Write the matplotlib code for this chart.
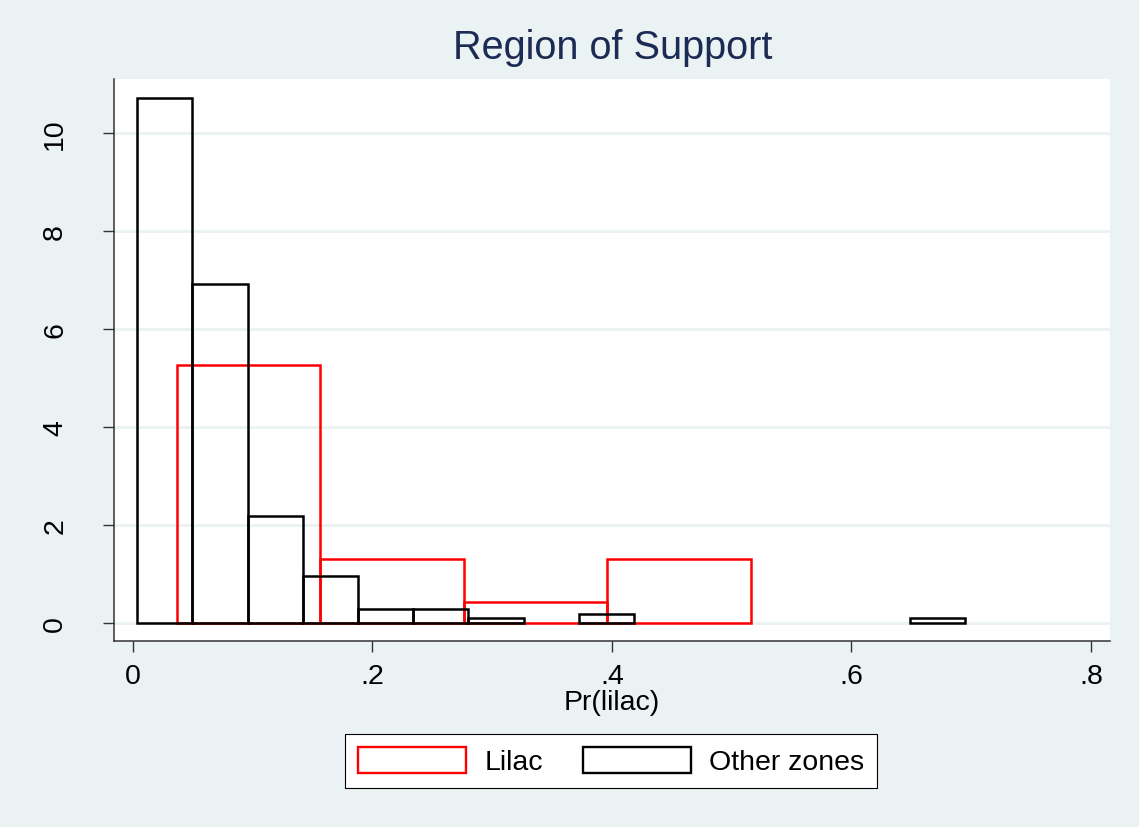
import numpy as np
import matplotlib.pyplot as plt
from matplotlib.patches import Patch

plt.rcParams['font.family'] = ['Liberation Sans', 'DejaVu Sans']

# histogram densities
other_start = 0.0036
other_width = 0.0461
other_density = [10.73, 6.93, 2.20, 0.96, 0.29, 0.29, 0.10, 0.0, 0.20,
                 0.0, 0.0, 0.0, 0.0, 0.0, 0.10]

lilac_start = 0.0365
lilac_width = 0.1199
lilac_density = [5.27, 1.32, 0.44, 1.32]

xticks = [0, 0.2, 0.4, 0.6, 0.8]
xticklabels = ['0', '.2', '.4', '.6', '.8']
yticks = [0, 2, 4, 6, 8, 10]

bg = '#EAF2F3'
fig = plt.figure(figsize=(11.39, 8.28), dpi=100, facecolor=bg)
ax = fig.add_axes([114/1139, 1-642/828, (1110-114)/1139, (642-80)/828])
ax.set_facecolor('white')


def draw_hist(start, width, dens, color):
    dens = np.array(dens)
    lefts = start + width*np.arange(len(dens))
    keep = dens > 0
    ax.bar(lefts[keep], dens[keep], width=width, align='edge', fill=False,
           edgecolor=color, linewidth=1.8, zorder=3)


draw_hist(lilac_start, lilac_width, lilac_density, '#FF0000')
draw_hist(other_start, other_width, other_density, 'black')

ax.set_xlim(-0.0158, 0.8159)
ax.set_ylim(-0.361, 11.108)
ax.set_xticks(xticks)
ax.set_xticklabels(xticklabels)
ax.set_yticks(yticks)
ax.set_yticklabels([str(t) for t in yticks], rotation=90, va='center')
ax.yaxis.grid(True, color=bg, linewidth=2)
ax.set_axisbelow(True)

for s in ['top', 'right']:
    ax.spines[s].set_visible(False)
for s in ['left', 'bottom']:
    ax.spines[s].set_color('#333333')
    ax.spines[s].set_linewidth(1.1)

ax.tick_params(axis='x', length=8, width=1, color='#333333', labelsize=20.5, pad=8)
ax.tick_params(axis='y', length=8, width=1, color='#333333', labelsize=20.5, pad=25)

ax.set_xlabel('Pr(lilac)', fontsize=20.5, labelpad=0)
fig.suptitle('Region of Support', x=0.538, y=0.965, fontsize=28.5, color='#1c2b54')

handles = [Patch(facecolor='white', edgecolor='#FF0000', linewidth=1.7, label='Lilac'),
           Patch(facecolor='white', edgecolor='black', linewidth=1.7, label='Other zones')]
leg = fig.legend(handles=handles, loc='center', bbox_to_anchor=(0.5364, 0.0797), ncol=2,
                 fontsize=20.5, handlelength=3.8, handleheight=1.05, handletextpad=0.63,
                 columnspacing=1.4, borderpad=0.45, fancybox=False, framealpha=1)
leg.get_frame().set_edgecolor('black')
leg.get_frame().set_linewidth(0.8)

fig.savefig('out.png', dpi=100, facecolor=bg)
